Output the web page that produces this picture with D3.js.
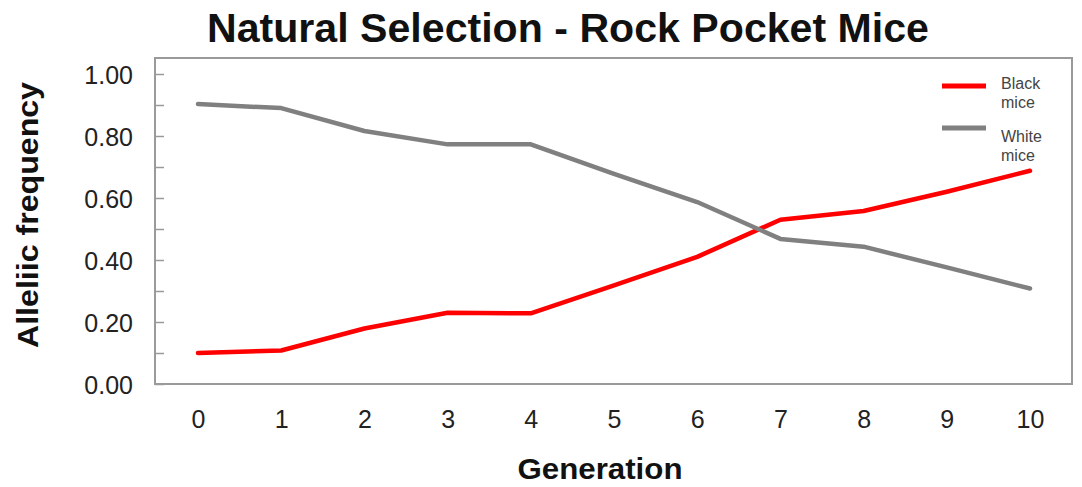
<!DOCTYPE html>
<html>
<head>
<meta charset="utf-8">
<script src="https://cdn.jsdelivr.net/npm/d3@7"></script>
<style>
  body { margin: 0; background: #fff; }
  svg { display: block; font-family: "Liberation Sans", Arial, sans-serif; }
</style>
</head>
<body>
<div id="chart"></div>
<script>
// data
const generations = [0, 1, 2, 3, 4, 5, 6, 7, 8, 9, 10];
const blackMice = [0.10, 0.108, 0.179, 0.23, 0.228, 0.318, 0.41, 0.53, 0.558, 0.62, 0.688];
const whiteMice = [0.903, 0.89, 0.816, 0.773, 0.773, 0.678, 0.587, 0.468, 0.443, 0.376, 0.308];
const yTicks = [0, 0.2, 0.4, 0.6, 0.8, 1.0];
const seriesNames = ["Black mice", "White mice"];
const seriesColors = ["#ff0000", "#808080"];

const width = 1082, height = 487;
const frame = {left: 155, right: 1072, top: 58, bottom: 384};

const svg = d3.select("#chart").append("svg")
    .attr("width", width)
    .attr("height", height);

const x = d3.scaleLinear().domain([0, 10]).range([198, 1030]);
const y = d3.scaleLinear().domain([0, 1]).range([384, 74]);

// plot frame
svg.append("rect")
    .attr("x", frame.left)
    .attr("y", frame.top)
    .attr("width", frame.right - frame.left)
    .attr("height", frame.bottom - frame.top)
    .attr("fill", "none")
    .attr("stroke", "#9a9a9a")
    .attr("stroke-width", 2);

// y axis: ticks inside the frame, labels outside
const yAxis = d3.axisLeft(y)
    .tickValues(d3.range(0, 1.01, 0.1))
    .tickSize(-9)
    .tickFormat(d => yTicks.some(t => Math.abs(t - d) < 1e-6) ? d3.format(".2f")(d) : "");

const gy = svg.append("g")
    .attr("transform", `translate(${frame.left},0)`)
    .call(yAxis);
gy.select(".domain").remove();
gy.selectAll(".tick line").attr("stroke", "#9a9a9a").attr("stroke-width", 1.5);
gy.selectAll(".tick text")
    .attr("x", -22)
    .attr("dy", "0.36em")
    .attr("fill", "#222")
    .style("font-size", "25px");

// x axis labels
const xAxis = d3.axisBottom(x).tickValues(generations).tickSize(0).tickFormat(d3.format("d"));
const gx = svg.append("g")
    .attr("transform", `translate(0,${frame.bottom})`)
    .call(xAxis);
gx.select(".domain").remove();
gx.selectAll(".tick text")
    .attr("y", 0)
    .attr("dy", "44px")
    .attr("fill", "#222")
    .style("font-size", "25px");

// lines
const line = d3.line()
    .x((d, i) => x(generations[i]))
    .y(d => y(d));

[blackMice, whiteMice].forEach((s, i) => {
  svg.append("path")
      .datum(s)
      .attr("d", line)
      .attr("fill", "none")
      .attr("stroke", seriesColors[i])
      .attr("stroke-width", 4.5)
      .attr("stroke-linejoin", "round")
      .attr("stroke-linecap", "round");
});

// legend
const legend = svg.append("g");
seriesNames.forEach((name, i) => {
  const ly = 86 + i * 42;
  legend.append("line")
      .attr("x1", 942).attr("x2", 986)
      .attr("y1", ly).attr("y2", ly)
      .attr("stroke", seriesColors[i])
      .attr("stroke-width", 5);
  const words = name.split(" ");
  const t = legend.append("text")
      .attr("x", 1001)
      .attr("y", ly + 3 + i * 11)
      .attr("fill", "#444")
      .style("font-size", "16px");
  words.forEach((w, j) => {
    t.append("tspan").attr("x", 1001).attr("dy", j ? "1.2em" : 0).text(w);
  });
});

// titles
svg.append("text")
    .attr("x", 568)
    .attr("y", 42)
    .attr("text-anchor", "middle")
    .attr("font-weight", "bold")
    .attr("fill", "#111")
    .attr("textLength", 722)
    .attr("lengthAdjust", "spacingAndGlyphs")
    .style("font-size", "40px")
    .text("Natural Selection - Rock Pocket Mice");

svg.append("text")
    .attr("x", 600)
    .attr("y", 479)
    .attr("text-anchor", "middle")
    .attr("font-weight", "bold")
    .attr("fill", "#111")
    .attr("textLength", 165)
    .attr("lengthAdjust", "spacingAndGlyphs")
    .style("font-size", "30px")
    .text("Generation");

svg.append("text")
    .attr("transform", "translate(38,215) rotate(-90)")
    .attr("text-anchor", "middle")
    .attr("font-weight", "bold")
    .attr("fill", "#111")
    .attr("textLength", 266)
    .attr("lengthAdjust", "spacingAndGlyphs")
    .style("font-size", "30px")
    .text("Alleliic frequency");
</script>
</body>
</html>
